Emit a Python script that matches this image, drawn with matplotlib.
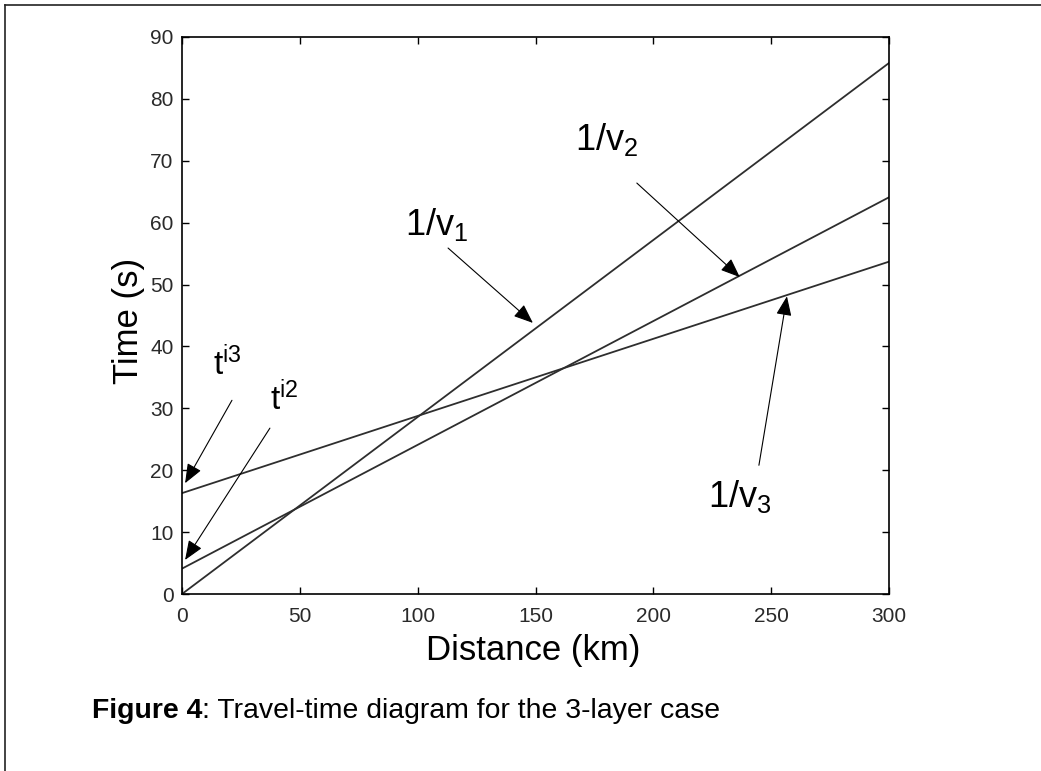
import numpy as np
import matplotlib
matplotlib.use("Agg")
import matplotlib.pyplot as plt
from matplotlib.lines import Line2D

plt.rcParams['font.family'] = ['Liberation Sans', 'DejaVu Sans']
plt.rcParams['mathtext.fontset'] = 'custom'
plt.rcParams['mathtext.rm'] = 'Liberation Sans'
plt.rcParams['mathtext.it'] = 'Liberation Sans'

# travel-time curves (end points)
distance = [0, 300]
t_direct = [0.0, 85.8]      # 1/v1
t_layer2 = [4.1, 64.1]      # 1/v2, intercept ti2
t_layer3 = [16.3, 53.7]     # 1/v3, intercept ti3

x_ticks = [0, 50, 100, 150, 200, 250, 300]
y_ticks = [0, 10, 20, 30, 40, 50, 60, 70, 80, 90]

# labels: (text, text pos, arrow start, arrow tip)
notes = [
    (r"1/v$_1$", (94.6, 58.0), (112.9, 55.9), (148.9, 43.8)),
    (r"1/v$_2$", (166.7, 71.7), (193.0, 66.4), (236.7, 51.2)),
    (r"1/v$_3$", (223.2, 14.1), (244.8, 20.8), (256.7, 48.1)),
]
intercepts = [
    (r"t$^{\mathrm{i3}}$", (13.2, 35.4), (21.2, 31.3), (1.3, 17.9)),
    (r"t$^{\mathrm{i2}}$", (37.3, 29.7), (37.3, 26.8), (1.3, 5.5)),
]

W, H = 1041, 771
fig = plt.figure(figsize=(W / 100, H / 100), dpi=100)
ax = fig.add_axes([182 / W, (H - 594) / H, 707 / W, 557 / H])

line_col = '#2e2e2e'
ax.plot(distance, t_direct, color=line_col, lw=1.3)
ax.plot(distance, t_layer2, color=line_col, lw=1.3)
ax.plot(distance, t_layer3, color=line_col, lw=1.3)

ax.set_xlim(0, 300)
ax.set_ylim(0, 90)
ax.set_xticks(x_ticks)
ax.set_yticks(y_ticks)
ax.tick_params(direction='in', length=5, width=1, top=True, right=True,
               labelsize=15, labelcolor='#2a2a2a')
ax.tick_params(axis='x', pad=9)
ax.tick_params(axis='y', pad=6)
for s in ax.spines.values():
    s.set_linewidth(1.2)

ax.set_xlabel('Distance (km)', fontsize=25, va='center')
ax.xaxis.set_label_coords(0.497, -0.102)
ax.set_ylabel('Time (s)', fontsize=25, va='center')
ax.yaxis.set_label_coords(-0.076, 0.49)

arrow = dict(arrowstyle='-|>,head_length=0.7,head_width=0.28', lw=0.8,
             color='black', shrinkA=0, shrinkB=0, mutation_scale=17)
for txt, pos, start, tip in notes:
    ax.text(pos[0], pos[1], txt, fontsize=26, ha='left', va='baseline')
    ax.annotate('', xy=tip, xytext=start, arrowprops=arrow)
for txt, pos, start, tip in intercepts:
    ax.text(pos[0], pos[1], txt, fontsize=24, ha='left', va='baseline')
    ax.annotate('', xy=tip, xytext=start, arrowprops=arrow, annotation_clip=False)

# page frame (top and left edge)
fig.add_artist(Line2D([5 / W, 1], [1 - 4.5 / H] * 2, transform=fig.transFigure,
                      color='#222222', lw=1.2))
fig.add_artist(Line2D([5 / W] * 2, [0, 1 - 4.5 / H], transform=fig.transFigure,
                      color='#222222', lw=1.2))

# caption
cap = fig.text(92 / W, 1 - 718 / H, 'Figure 4', fontsize=20.4, fontweight='bold',
               va='baseline', ha='left')
ax.annotate(': Travel-time diagram for the 3-layer case', xy=(1, 0), xycoords=cap,
            fontsize=20.4, va='bottom', ha='left', annotation_clip=False)

fig.savefig('out.png', dpi=100)
